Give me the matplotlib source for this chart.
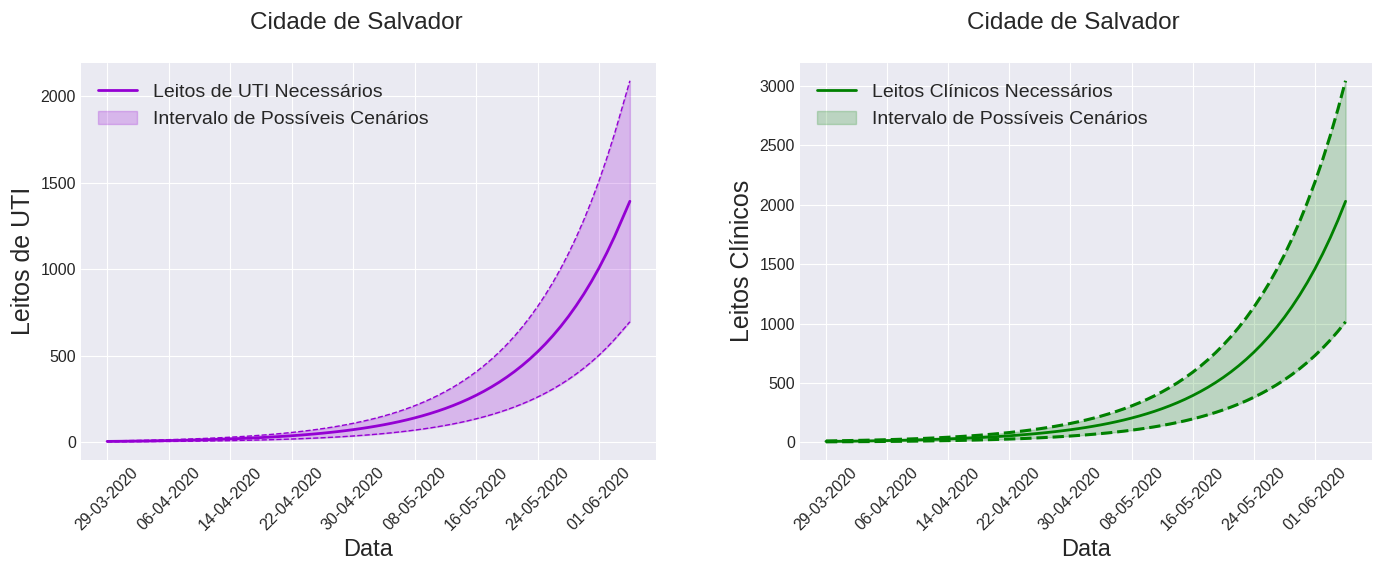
import matplotlib
matplotlib.use('Agg')
import matplotlib.pyplot as plt
import matplotlib.dates as mdates
import pandas as pd

plt.style.use('seaborn-v0_8-darkgrid')
plt.rcParams['font.family'] = ['Liberation Sans', 'DejaVu Sans']

# dias de 29-03-2020 ate 05-06-2020
datas = pd.date_range('2020-03-29', '2020-06-05', freq='D')

uti_medio = [5.30, 5.75, 6.24, 6.78, 7.36, 7.99, 8.67, 9.41, 10.21, 11.09,
             12.03, 13.06, 14.18, 15.39, 16.71, 18.13, 19.68, 21.37, 23.19, 25.17,
             27.33, 29.66, 32.20, 34.95, 37.93, 41.17, 44.69, 48.51, 52.66, 57.16,
             62.04, 67.35, 73.10, 79.35, 86.13, 93.49, 101.48, 110.15, 119.57, 129.79,
             140.88, 152.92, 165.98, 180.17, 195.57, 212.28, 230.42, 250.11, 271.49, 294.69,
             319.87, 347.21, 376.88, 409.09, 444.05, 482.00, 523.19, 567.9, 616.4, 669.1,
             726.3, 788.4, 855.7, 928.9, 1008.2, 1094.4, 1187.9, 1289.5, 1392.0]
uti_min = [2.65, 2.88, 3.12, 3.39, 3.68, 4.00, 4.34, 4.71, 5.11, 5.55,
           6.02, 6.53, 7.09, 7.70, 8.36, 9.07, 9.84, 10.69, 11.60, 12.59,
           13.67, 14.83, 16.10, 17.48, 18.97, 20.59, 22.35, 24.26, 26.33, 28.58,
           31.02, 33.68, 36.55, 39.68, 43.07, 46.75, 50.74, 55.08, 59.79, 64.90,
           70.44, 76.46, 82.99, 90.09, 97.79, 106.14, 115.21, 125.06, 135.75, 147.35,
           159.94, 173.61, 188.44, 204.55, 222.03, 241.0, 261.6, 283.95, 308.2, 334.55,
           363.15, 394.2, 427.85, 464.45, 504.1, 547.2, 593.95, 644.75, 696.0]
uti_max = [7.95, 8.63, 9.36, 10.17, 11.04, 11.99, 13.01, 14.12, 15.32, 16.64,
           18.05, 19.59, 21.27, 23.09, 25.07, 27.20, 29.52, 32.06, 34.79, 37.76,
           41.0, 44.49, 48.3, 52.43, 56.90, 61.76, 67.04, 72.77, 78.99, 85.74,
           93.06, 101.03, 109.65, 119.03, 129.20, 140.24, 152.22, 165.23, 179.36, 194.69,
           211.32, 229.38, 248.97, 270.26, 293.36, 318.42, 345.63, 375.17, 407.24, 442.04,
           479.81, 520.82, 565.32, 613.64, 666.08, 723.0, 784.79, 851.85, 924.6, 1003.65,
           1089.45, 1182.6, 1283.55, 1393.35, 1512.3, 1641.6, 1781.85, 1934.25, 2088.0]

cli_medio = [7.69, 8.34, 9.05, 9.83, 10.67, 11.59, 12.57, 13.64, 14.80, 16.08,
             17.44, 18.94, 20.56, 22.32, 24.23, 26.29, 28.54, 30.99, 33.63, 36.50,
             39.63, 43.01, 46.69, 50.68, 55.00, 59.70, 64.80, 70.34, 76.36, 82.88,
             89.96, 97.66, 106.0, 115.1, 124.9, 135.6, 147.1, 159.7, 173.4, 188.2,
             204.3, 221.7, 240.7, 261.2, 283.6, 307.8, 334.1, 362.7, 393.7, 427.3,
             463.8, 503.5, 546.5, 593.2, 643.9, 698.9, 758.6, 823.5, 893.8, 970.2,
             1053.1, 1143.2, 1240.8, 1346.9, 1461.9, 1586.9, 1722.5, 1869.8, 2029.6]
cli_min = [3.85, 4.17, 4.53, 4.92, 5.34, 5.80, 6.29, 6.82, 7.40, 8.04,
           8.72, 9.47, 10.28, 11.16, 12.12, 13.15, 14.27, 15.50, 16.82, 18.25,
           19.82, 21.51, 23.35, 25.34, 27.50, 29.85, 32.40, 35.17, 38.18, 41.44,
           44.98, 48.83, 53.0, 57.55, 62.45, 67.8, 73.55, 79.85, 86.7, 94.1,
           102.15, 110.85, 120.35, 130.6, 141.8, 153.9, 167.05, 181.35, 196.85, 213.65,
           231.9, 251.75, 273.25, 296.6, 321.95, 349.45, 379.3, 411.75, 446.9, 485.1,
           526.55, 571.6, 620.4, 673.45, 730.95, 793.45, 861.25, 934.9, 1014.8]
cli_max = [11.54, 12.51, 13.58, 14.75, 16.01, 17.39, 18.86, 20.46, 22.20, 24.12,
           26.16, 28.41, 30.84, 33.48, 36.35, 39.44, 42.81, 46.49, 50.45, 54.75,
           59.45, 64.52, 70.04, 76.02, 82.50, 89.55, 97.20, 105.51, 114.54, 124.32,
           134.94, 146.49, 159.0, 172.65, 187.35, 203.4, 220.65, 239.55, 260.1, 282.3,
           306.45, 332.55, 361.05, 391.8, 425.4, 461.7, 501.15, 544.05, 590.55, 640.95,
           695.7, 755.25, 819.75, 889.8, 965.85, 1048.35, 1137.9, 1235.25, 1340.7, 1455.3,
           1579.65, 1714.8, 1861.2, 2020.35, 2192.85, 2380.35, 2583.75, 2804.7, 3044.4]

titulo = 'Cidade de Salvador'


def painel(ax, medio, vmin, vmax, cor, lw_lim, alpha, rotulo_linha, ylabel):
    ax.plot(datas, medio, color=cor, lw=2, label=rotulo_linha)
    ax.plot(datas, vmin, color=cor, lw=lw_lim, ls='--')
    ax.plot(datas, vmax, color=cor, lw=lw_lim, ls='--')
    ax.fill_between(datas, vmin, vmax, color=cor, alpha=alpha,
                    label='Intervalo de Possíveis Cenários')
    ax.set_title(titulo, fontsize=17.5, pad=24, x=0.479)
    ax.set_xlabel('Data', fontsize=17)
    ax.set_ylabel(ylabel, fontsize=18)
    ax.set_xticks(datas[::8])
    ax.xaxis.set_major_formatter(mdates.DateFormatter('%d-%m-%Y'))
    ax.tick_params(axis='x', labelrotation=45, labelsize=11.5)
    ax.tick_params(axis='y', labelsize=11.5)
    ax.legend(loc='upper left', fontsize=14, bbox_to_anchor=(0, 0.992))


fig = plt.figure(figsize=(13.84, 5.65), dpi=100)
ax1 = fig.add_axes([0.0585, 0.186, 0.4155, 0.703])
ax2 = fig.add_axes([0.578, 0.186, 0.413, 0.703])

painel(ax1, uti_medio, uti_min, uti_max, 'darkviolet', 1.0, 0.22,
       'Leitos de UTI Necessários', 'Leitos de UTI')
painel(ax2, cli_medio, cli_min, cli_max, 'green', 2.2, 0.2,
       'Leitos Clínicos Necessários', 'Leitos Clínicos')

fig.savefig('out.png', dpi=100)
